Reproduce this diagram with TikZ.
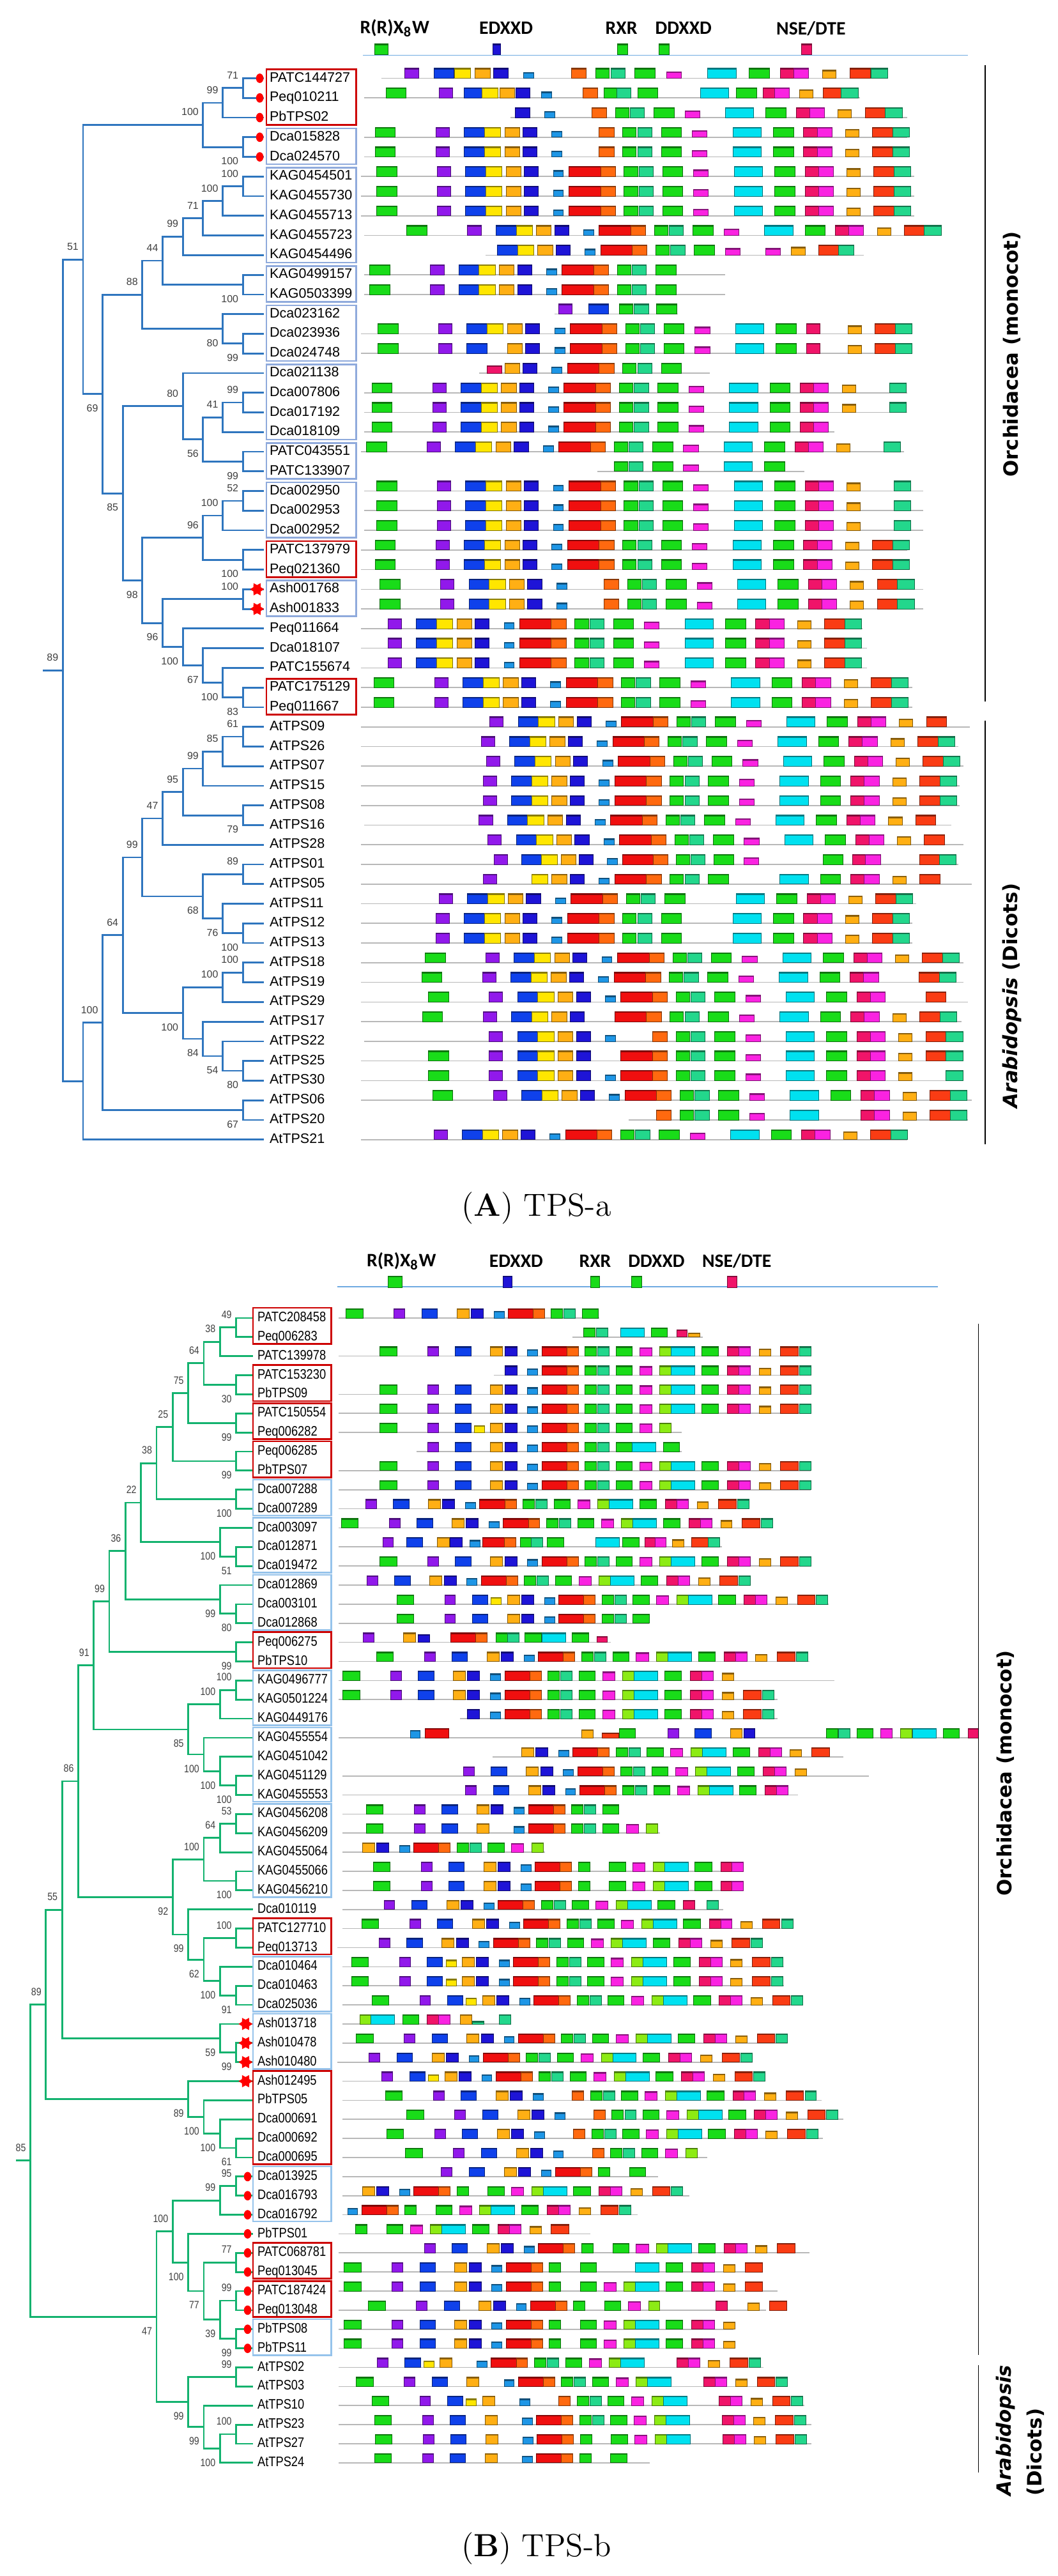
\documentclass[tikz,border=0pt]{standalone}
\usepackage{fontspec}
\newfontfamily\leaffont{Liberation Sans}
\newfontfamily\leafnarrow{Liberation Sans}[FakeStretch=0.85]
\newfontfamily\hdfont{Carlito}
\newfontfamily\gpfont{DejaVu Sans}
\usetikzlibrary{calc,shapes.geometric}

\definecolor{treeA}{RGB}{46,117,190}
\definecolor{treeB}{RGB}{18,178,110}
\definecolor{boxR}{RGB}{205,0,0}
\definecolor{boxBA}{RGB}{143,170,220}
\definecolor{boxBB}{RGB}{150,195,235}
\definecolor{hdln}{RGB}{110,170,225}
\definecolor{mg}{RGB}{25,220,25}
\definecolor{mp}{RGB}{145,25,235}
\definecolor{mb}{RGB}{15,65,235}
\definecolor{my}{RGB}{255,230,0}
\definecolor{mgold}{RGB}{255,175,20}
\definecolor{mnavy}{RGB}{30,20,215}
\definecolor{mlb}{RGB}{30,150,230}
\definecolor{mred}{RGB}{240,15,15}
\definecolor{mor}{RGB}{255,105,15}
\definecolor{mmint}{RGB}{35,215,140}
\definecolor{mmag}{RGB}{250,35,225}
\definecolor{mcyan}{RGB}{0,225,240}
\definecolor{mcrim}{RGB}{240,20,105}
\definecolor{mrdor}{RGB}{250,60,20}
\definecolor{mlime}{RGB}{140,235,20}

% row positions
\newcommand\rowA[1]{116+(#1-1)*29.13}
\newcommand\rowB[1]{1953.4+(#1-1)*28.28}

% domain templates (offset, width, height, colour)
\def\dxA{{-132,-42,0,30,60,87,130,153,200,235,257,292,338,398,458,503,523,565,605,635}}
\def\wdA{{30,20,30,24,22,21,15,47,22,20,21,30,22,42,30,20,22,20,30,25}}
\def\htA{{15,15,15,15,15,15,9,15,15,15,15,15,10,15,15,15,15,12,15,15}}
\def\clA{{"mg","mp","mb","my","mgold","mnavy","mlb","mred","mor","mg","mmint","mg","mmag","mcyan","mg","mcrim","mmag","mgold","mrdor","mmint"}}
\def\dxB{{-112,-41,0,28,52,73,107,128,165,192,211,238,273,303,320,365,403,420,450,482,510}}
\def\wdB{{25,16,23,15,18,18,15,37,17,17,17,24,18,17,35,25,17,17,17,26,17}}
\def\htB{{14,14,14,10,14,14,10,14,14,14,14,14,13,14,14,14,14,14,11,14,14}}
\def\clB{{"mg","mp","mb","my","mgold","mnavy","mlb","mred","mor","mg","mmint","mg","mmag","mlime","mcyan","mg","mcrim","mmag","mgold","mrdor","mmint"}}
\def\fA{1,1,1,1,1,1,1,1,1,1,1,1,1,1,1,1,1,1,1,1}
\def\nA{0,1,1,1,1,1,1,1,1,1,1,1,1,1,1,1,1,1,1,1}
\def\fB{1,1,1,0,1,1,1,1,1,1,1,1,1,1,1,1,1,1,1,1,1}

\newcommand\useA{\let\rowY\rowA\let\mtdx\dxA\let\mtw\wdA\let\mth\htA\let\mtc\clA}
\newcommand\useB{\let\rowY\rowB\let\mtdx\dxB\let\mtw\wdB\let\mth\htB\let\mtc\clB}

\newcommand\dom[5]{%
  \filldraw[fill=#5, draw=#5!50!black, line width=0.2pt] (#1,#2) rectangle ++(#3,-#4);
  \fill[fill=#5!55!black] (#1,{#2-#4}) rectangle ++(#3,1.8);}
\newcommand\seqline[3]{\pgfmathsetmacro\mY{\rowY{#1}}\draw[gline] (#2,\mY) -- (#3,\mY);}
\newcommand\dombox[5]{\pgfmathsetmacro\mY{\rowY{#1}}\dom{#2}{\mY}{#3}{#4}{#5}}
\newcommand\mrow[6]{%
  \seqline{#1}{#2}{#3}%
  \edef\mk{#6}%
  \foreach \m [count=\i from 0] in \mk {%
    \ifnum\m=1
      \pgfmathsetmacro\mD{\mtdx[\i]}%
      \pgfmathsetmacro\mX{#4+#5*\mD}%
      \pgfmathsetmacro\mW{\mtw[\i]}%
      \pgfmathsetmacro\mH{\mth[\i]}%
      \pgfmathparse{\mtc[\i]}\let\mC\pgfmathresult
      \dom{\mX}{\mY}{\mW}{\mH}{\mC}%
    \fi}}

% tree: node between two children, elbows, support value
\newcommand\inode[4]{\path let \p1=(#3), \p2=(#4), \p3=(#2,0) in coordinate (#1) at (\x3,{(\y1+\y2)/2});}
\newcommand\clade[7]{%
  \inode{#2}{#3}{#4}{#5}
  \draw[br#1] (#2) |- (#4);
  \draw[br#1] (#2) |- (#5);
  \node[bs#1] at ([shift={(-6,#7)}]#2) {#6};}
\newcommand\grpA[3]{\draw[#1] (395,{\rowA{#2}-13}) rectangle (528,{\rowA{#3}+11});}
\newcommand\grpB[3]{\draw[#1] (375,{\rowB{#2}-15}) rectangle (491,{\rowB{#3}+10});}

\tikzset{
  brA/.style={draw=treeA, line width=0.75pt, line cap=rect},
  brB/.style={draw=treeB, line width=0.75pt, line cap=rect},
  bsA/.style={anchor=east, inner sep=0pt, text=black!75, font=\leaffont\fontsize{4.3}{5}\selectfont},
  bsB/.style={anchor=east, inner sep=0pt, text=black!75, font=\leafnarrow\fontsize{4.5}{5}\selectfont},
  leafA/.style={anchor=west, inner sep=0pt, text height=4.2pt, text depth=1.2pt, font=\leaffont\fontsize{5.8}{7}\selectfont},
  leafB/.style={anchor=west, inner sep=0pt, text height=4.2pt, text depth=1.2pt, font=\leafnarrow\fontsize{5.8}{7}\selectfont},
  gline/.style={draw=black!28, line width=0.45pt},
  redbox/.style={draw=boxR, line width=0.7pt},
  blueboxA/.style={draw=boxBA, line width=0.7pt},
  blueboxB/.style={draw=boxBB, line width=0.7pt},
  rdot/.style={ellipse, fill=red, inner sep=0pt, minimum width=1.1mm, minimum height=1.4mm},
  rstar/.style={star, star points=6, star point ratio=0.6, fill=red, inner sep=0pt, minimum size=1.25mm},
  hd/.style={inner sep=0pt, font=\hdfont\bfseries\fontsize{8}{9}\selectfont},
  gp/.style={rotate=90, inner sep=0pt, font=\gpfont\bfseries\fontsize{8.3}{10}\selectfont},
  brk/.style={draw=black, line width=0.35pt},
  capt/.style={inner sep=0pt, font=\fontsize{13.5}{16}\selectfont}
}

\begin{document}
\begin{tikzpicture}[x=0.1mm, y=-0.1mm]
\useasboundingbox (0,0) rectangle (1568,3818);
\fill[white] (0,0) rectangle (1568,3818);

% ---------- (A) TPS-a ----------
\draw[hdln, line width=0.45pt] (538,82) -- (1435,82);
\dom{555}{81}{20}{16}{mg}
\dom{730}{81}{12}{16}{mnavy}
\dom{915}{81}{15}{16}{mg}
\dom{977}{81}{15}{16}{mg}
\dom{1188}{81}{15}{16}{mcrim}
\node[hd] (hA1) at (585,42) {R(R)X\textsubscript{8}W};
\node[hd] (hA2) at (750,42) {EDXXD};
\node[hd] (hA3) at (921,42) {RXR};
\node[hd] (hA4) at (1013,42) {DDXXD};
\node[hd] (hA5) at (1202,42) {NSE/DTE};

\useA
\mrow{1}{565}{1310}{643}{1.02}{0,1,1,1,1,1,1,0,1,1,1,1,1,1,1,1,1,1,1,1}
\mrow{2}{540}{1275}{688}{0.88}{1,1,1,1,1,1,1,0,1,1,1,1,0,1,1,1,1,1,1,1}
\mrow{3}{757}{1345}{677}{1}{0,0,0,0,0,1,1,0,1,1,1,1,1,1,1,1,1,1,1,1}
\mrow{4}{540}{1345}{688}{1}{1,1,1,1,1,1,1,0,1,1,1,1,1,1,1,1,1,1,1,1}
\mrow{5}{540}{1345}{688}{1}{1,1,1,1,1,1,1,0,1,1,1,1,1,1,1,1,1,1,1,1}
\mrow{6}{535}{1355}{690}{1}{\fA}
\mrow{7}{535}{1355}{690}{1}{\fA}
\mrow{8}{535}{1355}{690}{1}{\fA}
\mrow{9}{540}{1385}{735}{1}{\fA}
\mrow{10}{720}{1280}{737}{1}{0,0,1,1,1,1,1,1,1,1,1,1,1,0,0,0,0,0,0,0}
\dombox{10}{1135}{22}{10}{mmag}\dombox{10}{1173}{20}{12}{mgold}\dombox{10}{1213}{30}{15}{mrdor}\dombox{10}{1243}{22}{15}{mmint}
\mrow{11}{540}{1075}{680}{1}{1,1,1,1,1,1,1,1,1,1,1,1,0,0,0,0,0,0,0,0}
\mrow{12}{540}{1075}{680}{1}{1,1,1,1,1,1,1,1,1,1,1,1,0,0,0,0,0,0,0,0}
\seqline{13}{822}{1005}
\dombox{13}{828}{20}{15}{mp}\dombox{13}{872}{30}{15}{mb}\dombox{13}{918}{20}{15}{mg}\dombox{13}{940}{21}{15}{mmint}\dombox{13}{973}{30}{15}{mg}
\mrow{14}{535}{1350}{692}{1}{1,1,1,1,1,1,1,1,1,1,1,1,1,1,1,1,0,1,1,1}
\mrow{15}{535}{1350}{692}{1}{1,1,1,0,1,1,1,1,1,1,1,1,1,1,1,1,0,1,1,1}
\mrow{16}{710}{1052}{688}{1}{0,0,0,0,1,1,1,1,1,1,1,1,0,0,0,0,0,0,0,0}
\dombox{16}{722}{22}{11}{mcrim}
\mrow{17}{540}{1345}{683}{1}{1,1,1,1,1,1,1,1,1,1,1,1,1,1,1,1,1,1,0,1}
\mrow{18}{540}{1345}{683}{1}{1,1,1,1,1,1,1,1,1,1,1,1,1,1,1,1,1,1,0,1}
\mrow{19}{540}{1237}{683}{1}{1,1,1,1,1,1,1,1,1,1,1,1,1,1,1,1,1,0,0,0}
\mrow{20}{535}{1340}{675}{1}{1,1,1,1,1,1,1,1,1,1,1,1,1,1,1,1,1,1,0,1}
\mrow{21}{885}{1192}{675}{1}{0,0,0,0,0,0,0,0,0,1,1,1,1,1,1,0,0,0,0,0}
\mrow{22}{540}{1368}{690}{1}{1,1,1,1,1,1,1,1,1,1,1,1,1,1,1,1,1,1,0,1}
\mrow{23}{540}{1368}{690}{1}{1,1,1,1,1,1,1,1,1,1,1,1,1,1,1,1,1,1,0,1}
\mrow{24}{540}{1368}{690}{1}{1,1,1,1,1,1,1,1,1,1,1,1,1,1,1,1,1,1,0,1}
\mrow{25}{535}{1345}{688}{1}{\fA}
\mrow{26}{535}{1345}{688}{1}{\fA}
\mrow{27}{535}{1368}{695}{1}{1,1,1,1,1,1,1,0,1,1,1,1,1,1,1,1,1,1,1,1}
\mrow{28}{535}{1368}{695}{1}{1,1,1,1,1,1,1,0,1,1,1,1,1,1,1,1,1,1,1,1}
\mrow{29}{535}{1278}{617}{1}{\nA}
\mrow{30}{535}{1285}{617}{1}{\nA}
\mrow{31}{535}{1285}{617}{1}{\nA}
\mrow{32}{535}{1352}{686}{1}{\fA}
\mrow{33}{535}{1352}{686}{1}{\fA}
\mrow{34}{535}{1437}{768}{1}{0,1,1,1,1,1,1,1,1,1,1,1,1,1,1,1,1,1,1,0}
\mrow{35}{535}{1420}{755}{1}{\nA}
\mrow{36}{535}{1428}{763}{1}{\nA}
\mrow{37}{535}{1422}{758}{1}{\nA}
\mrow{38}{535}{1422}{758}{1}{\nA}
\mrow{39}{540}{1410}{752}{1}{0,1,1,1,1,1,1,1,1,1,1,1,1,1,1,1,1,1,1,0}
\mrow{40}{535}{1428}{765}{1}{0,1,1,1,1,1,1,1,1,1,1,1,1,1,1,1,1,1,1,0}
\mrow{41}{535}{1420}{773}{0.975}{0,1,1,1,1,1,1,1,1,1,1,1,1,0,1,1,1,0,1,1}
\mrow{42}{535}{1440}{758}{1}{0,1,0,1,1,1,1,1,1,1,1,1,0,1,1,1,1,1,1,0}
\mrow{43}{535}{1358}{693}{1}{0,1,1,1,1,1,1,1,1,1,1,1,0,1,1,1,1,1,1,1}
\mrow{44}{535}{1352}{688}{1}{0,1,1,1,1,1,1,1,1,1,1,1,0,1,1,1,1,1,1,1}
\mrow{45}{535}{1352}{688}{1}{0,1,1,1,1,1,1,1,1,1,1,1,0,1,1,1,1,1,1,1}
\mrow{46}{535}{1428}{762}{1}{\fA}
\mrow{47}{535}{1428}{757}{1}{1,1,1,1,1,1,1,1,1,1,1,1,1,1,1,1,1,0,1,1}
\mrow{48}{535}{1435}{767}{1}{1,1,1,1,1,1,1,1,1,1,1,1,1,1,1,1,1,0,1,0}
\mrow{49}{535}{1425}{758}{1}{1,1,1,1,1,1,0,1,1,1,1,1,1,1,1,1,1,1,1,1}
\mrow{50}{540}{1425}{767}{1}{0,1,1,1,1,1,1,0,1,1,1,1,1,1,1,1,1,1,1,1}
\mrow{51}{535}{1428}{767}{1}{1,1,1,1,1,1,0,1,1,1,1,1,1,1,1,1,1,1,1,1}
\mrow{52}{535}{1428}{767}{1}{1,1,1,1,1,1,1,1,1,1,1,1,1,1,1,1,1,1,0,1}
\mrow{53}{535}{1440}{773}{1}{\fA}
\mrow{54}{932}{1435}{773}{1}{0,0,0,0,0,0,0,0,1,1,1,1,1,1,0,1,1,1,1,1}
\mrow{55}{535}{1345}{685}{1}{\nA}

% leaves A
\foreach \nm [count=\r] in {PATC144727,Peq010211,PbTPS02,Dca015828,Dca024570,KAG0454501,KAG0455730,KAG0455713,KAG0455723,KAG0454496,KAG0499157,KAG0503399,Dca023162,Dca023936,Dca024748,Dca021138,Dca007806,Dca017192,Dca018109,PATC043551,PATC133907,Dca002950,Dca002953,Dca002952,PATC137979,Peq021360,Ash001768,Ash001833,Peq011664,Dca018107,PATC155674,PATC175129,Peq011667,AtTPS09,AtTPS26,AtTPS07,AtTPS15,AtTPS08,AtTPS16,AtTPS28,AtTPS01,AtTPS05,AtTPS11,AtTPS12,AtTPS13,AtTPS18,AtTPS19,AtTPS29,AtTPS17,AtTPS22,AtTPS25,AtTPS30,AtTPS06,AtTPS20,AtTPS21} {
  \coordinate (ta\r) at (390,{\rowA{\r}});
  \node[leafA] (la\r) at (399,{\rowA{\r}}) {\nm};
}

% tree A
\clade{A}{a71}{360}{ta1}{ta2}{71}{-19}
\clade{A}{a99a}{330}{a71}{ta3}{99}{-19}
\clade{A}{a100a}{360}{ta4}{ta5}{100}{21}
\clade{A}{a100b}{301}{a99a}{a100a}{100}{-19}
\clade{A}{a100c}{360}{ta6}{ta7}{100}{-19}
\clade{A}{a100d}{330}{a100c}{ta8}{100}{-19}
\clade{A}{a71b}{301}{a100d}{ta9}{71}{-19}
\clade{A}{a99b}{271}{a71b}{ta10}{99}{-19}
\clade{A}{a100e}{360}{ta11}{ta12}{100}{21}
\clade{A}{a44}{241}{a99b}{a100e}{44}{-19}
\clade{A}{a99c}{360}{ta14}{ta15}{99}{21}
\clade{A}{a80a}{330}{ta13}{a99c}{80}{21}
\clade{A}{a88}{211}{a44}{a80a}{88}{-19}
\clade{A}{a99d}{360}{ta17}{ta18}{99}{-19}
\clade{A}{a41}{330}{a99d}{ta19}{41}{-19}
\clade{A}{a99e}{360}{ta20}{ta21}{99}{21}
\clade{A}{a56}{301}{a41}{a99e}{56}{21}
\clade{A}{a80b}{271}{ta16}{a56}{80}{-19}
\clade{A}{a52}{360}{ta22}{ta23}{52}{-19}
\clade{A}{a100f}{330}{a52}{ta24}{100}{-19}
\clade{A}{a100g}{360}{ta25}{ta26}{100}{21}
\clade{A}{a96a}{301}{a100f}{a100g}{96}{-19}
\clade{A}{a100h}{360}{ta27}{ta28}{100}{-19}
\clade{A}{a83}{360}{ta32}{ta33}{83}{21}
\clade{A}{a100i}{330}{ta31}{a83}{100}{21}
\clade{A}{a67}{301}{ta30}{a100i}{67}{21}
\clade{A}{a100j}{271}{ta29}{a67}{100}{21}
\clade{A}{a96b}{241}{a100h}{a100j}{96}{21}
\clade{A}{a98}{211}{a96a}{a96b}{98}{21}
\clade{A}{a85}{182}{a80b}{a98}{85}{21}
\clade{A}{a69}{152}{a88}{a85}{69}{21}
\clade{A}{a51}{123}{a100b}{a69}{51}{-19}
\clade{A}{a61}{360}{ta34}{ta35}{61}{-19}
\clade{A}{a85b}{330}{a61}{ta36}{85}{-19}
\clade{A}{a99f}{301}{a85b}{ta37}{99}{-19}
\clade{A}{a79}{360}{ta38}{ta39}{79}{21}
\clade{A}{a95}{271}{a99f}{a79}{95}{-19}
\clade{A}{a47}{241}{a95}{ta40}{47}{-19}
\clade{A}{a89}{360}{ta41}{ta42}{89}{-19}
\clade{A}{a100k}{360}{ta44}{ta45}{100}{21}
\clade{A}{a76}{330}{ta43}{a100k}{76}{21}
\clade{A}{a68}{301}{a89}{a76}{68}{21}
\clade{A}{a99g}{211}{a47}{a68}{99}{-19}
\clade{A}{a100l}{360}{ta46}{ta47}{100}{-19}
\clade{A}{a100m}{330}{a100l}{ta48}{100}{-19}
\clade{A}{a80c}{360}{ta51}{ta52}{80}{21}
\clade{A}{a54}{330}{ta50}{a80c}{54}{21}
\clade{A}{a84}{301}{ta49}{a54}{84}{21}
\clade{A}{a100n}{271}{a100m}{a84}{100}{21}
\clade{A}{a64}{182}{a99g}{a100n}{64}{-19}
\clade{A}{a67b}{360}{ta53}{ta54}{67}{21}
\clade{A}{a100o}{152}{a64}{a67b}{100}{-19}
\clade{A}{a100p}{123}{a100o}{ta55}{}{-19}
\clade{A}{rootA}{93}{a51}{a100p}{89}{-19}
\draw[brA] (rootA) -- ++(-28,0);

% groups A
\grpA{redbox}{1}{3}
\grpA{blueboxA}{4}{5}
\grpA{blueboxA}{6}{10}
\grpA{blueboxA}{11}{12}
\grpA{blueboxA}{13}{15}
\grpA{blueboxA}{16}{19}
\grpA{blueboxA}{20}{21}
\grpA{blueboxA}{22}{24}
\grpA{redbox}{25}{26}
\grpA{blueboxA}{27}{28}
\grpA{redbox}{32}{33}
\foreach \r in {1,...,5} \node[rdot] at (385,{\rowA{\r}}) {};
\foreach \r in {27,28} \node[rstar] at (381,{\rowA{\r}}) {};

\draw[brk] (1460,97) -- (1460,1040);
\draw[brk] (1460,1068) -- (1460,1696);
\node[gp] (oA) at (1500,525) {Orchidacea (monocot)};
\node[gp] (dA) at (1500,1476) {\itshape Arabidopsis\upshape{} (Dicots)};
\node[capt] (cA) at (795,1791) {(\textbf{A}) TPS-a};

% ---------- (B) TPS-b ----------
\draw[hdln, line width=0.45pt] (500,1907) -- (1390,1907);
\dom{575}{1908}{21}{17}{mg}
\dom{746}{1908}{13}{17}{mnavy}
\dom{875}{1908}{14}{17}{mg}
\dom{936}{1908}{15}{17}{mg}
\dom{1078}{1908}{14}{17}{mcrim}
\node[hd] (hB1) at (595,1869) {R(R)X\textsubscript{8}W};
\node[hd] (hB2) at (765,1869) {EDXXD};
\node[hd] (hB3) at (882,1869) {RXR};
\node[hd] (hB4) at (973,1869) {DDXXD};
\node[hd] (hB5) at (1092,1869) {NSE/DTE};

\useB
\mrow{1}{502}{888}{625}{1}{1,1,1,0,1,1,1,1,1,1,1,1,0,0,0,0,0,0,0,0,0}
\seqline{2}{848}{1042}
\dombox{2}{865}{17}{14}{mg}\dombox{2}{884}{17}{14}{mmint}\dombox{2}{920}{35}{14}{mcyan}\dombox{2}{965}{24}{14}{mg}\dombox{2}{1003}{15}{11}{mcrim}\dombox{2}{1020}{17}{6}{mgold}
\mrow{3}{502}{1202}{675}{1}{\fB}
\mrow{4}{732}{1202}{675}{1}{0,0,0,0,0,1,1,1,1,1,1,1,1,1,1,1,1,1,1,1,1}
\mrow{5}{502}{1202}{675}{1}{\fB}
\mrow{6}{502}{1202}{675}{1}{\fB}
\mrow{7}{502}{1010}{675}{1}{1,1,1,1,1,1,1,1,1,1,1,1,1,1,0,0,0,0,0,0,0}
\mrow{8}{617}{1010}{675}{1}{0,1,1,0,1,1,1,1,1,1,1,1,0,0,0,0,0,0,0,0,0}
\dombox{8}{937}{35}{14}{mcyan}\dombox{8}{983}{24}{14}{mg}
\mrow{9}{502}{1202}{675}{1}{\fB}
\mrow{10}{502}{1202}{675}{1}{\fB}
\mrow{11}{502}{1110}{583}{1}{0,1,1,0,1,1,1,1,1,1,1,1,1,1,1,1,1,1,1,1,1}
\mrow{12}{502}{1145}{618}{1}{\fB}
\mrow{13}{502}{1070}{603}{0.875}{0,1,1,0,1,1,1,1,1,1,1,1,0,0,1,1,1,1,1,1,1}
\mrow{14}{502}{1202}{675}{1}{\fB}
\mrow{15}{502}{1112}{585}{1}{0,1,1,0,1,1,1,1,1,1,1,1,1,1,1,1,1,1,1,1,1}
\mrow{16}{502}{1228}{700}{1}{1,1,1,1,1,1,1,1,1,1,1,1,1,1,1,1,1,1,1,1,1}
\mrow{17}{502}{962}{700}{1}{1,1,1,0,1,1,1,1,1,1,1,1,0,0,0,0,0,0,0,0,0}
\seqline{18}{502}{905}
\dombox{18}{538}{16}{14}{mp}\dombox{18}{598}{18}{14}{mgold}\dombox{18}{620}{17}{12}{mnavy}\dombox{18}{668}{37}{14}{mred}\dombox{18}{705}{17}{14}{mor}\dombox{18}{735}{17}{14}{mg}\dombox{18}{752}{17}{14}{mmint}\dombox{18}{778}{24}{14}{mg}\dombox{18}{803}{35}{14}{mcyan}\dombox{18}{848}{24}{14}{mg}\dombox{18}{885}{15}{9}{mcrim}
\mrow{19}{502}{1200}{670}{1}{\fB}
\mrow{20}{502}{1237}{620}{1}{1,1,1,0,1,1,1,1,1,1,1,1,1,1,1,1,1,1,1,0,0}
\mrow{21}{502}{1152}{620}{1}{\fB}
\mrow{22}{682}{1152}{620}{1}{0,0,0,0,0,1,1,1,1,1,1,1,1,1,1,1,1,1,1,1,1}
\seqline{23}{502}{1450}
\dombox{23}{608}{14}{11}{mlb}\dombox{23}{630}{35}{14}{mred}\dombox{23}{862}{17}{12}{mgold}\dombox{23}{892}{25}{7}{mrdor}\dombox{23}{918}{24}{14}{mg}\dombox{23}{990}{16}{14}{mp}\dombox{23}{1030}{24}{14}{mb}\dombox{23}{1083}{17}{14}{mgold}\dombox{23}{1103}{16}{14}{mnavy}\dombox{23}{1225}{17}{14}{mg}\dombox{23}{1243}{17}{14}{mmint}\dombox{23}{1270}{24}{14}{mg}\dombox{23}{1305}{17}{14}{mmag}\dombox{23}{1335}{17}{14}{mlime}\dombox{23}{1353}{35}{14}{mcyan}\dombox{23}{1398}{24}{14}{mg}\dombox{23}{1435}{15}{14}{mcrim}
\mrow{24}{730}{1250}{721}{1}{0,0,0,0,1,1,1,1,1,1,1,1,1,1,1,1,1,1,1,1,0}
\mrow{25}{508}{1288}{728}{1}{0,1,1,0,1,1,1,1,1,1,1,1,1,1,1,1,1,1,1,0,0}
\mrow{26}{508}{1183}{731}{1}{0,1,1,0,1,1,1,1,1,1,1,1,1,1,1,1,1,1,0,0,0}
\mrow{27}{508}{918}{655}{1}{1,1,1,0,1,1,1,1,1,1,1,1,0,0,0,0,0,0,0,0,0}
\mrow{28}{508}{978}{655}{1}{1,1,1,0,1,0,1,1,1,1,1,1,1,1,0,0,0,0,0,0,0}
\mrow{29}{508}{808}{485}{1}{0,0,0,0,1,1,1,1,1,1,1,1,1,1,0,0,0,0,0,0,0}
\mrow{30}{508}{1102}{665}{1}{1,1,1,0,1,1,1,1,1,1,0,1,1,1,1,1,1,1,0,0,0}
\mrow{31}{508}{1102}{665}{1}{1,1,1,0,1,1,1,1,1,1,0,1,1,1,1,1,1,1,0,0,0}
\mrow{32}{508}{1072}{610}{1}{0,1,1,0,1,1,1,1,1,1,1,1,1,1,1,1,1,0,0,0,0}
\dombox{32}{1048}{17}{14}{mmint}
\mrow{33}{508}{1175}{648}{1}{\fB}
\mrow{34}{500}{1130}{603}{1}{0,1,1,0,1,1,1,1,1,1,1,1,1,1,1,1,1,1,1,1,1}
\mrow{35}{508}{1162}{633}{1}{1,1,1,1,1,1,1,1,1,1,1,1,1,1,1,1,1,1,1,1,1}
\mrow{36}{508}{1162}{633}{1}{1,1,1,1,1,1,1,1,1,1,1,1,1,1,1,1,1,1,1,1,1}
\mrow{37}{508}{1190}{663}{1}{1,1,1,1,1,1,1,1,1,1,1,1,1,1,1,1,1,1,1,1,1}
\seqline{38}{508}{758}
\dombox{38}{533}{17}{14}{mlime}\dombox{38}{550}{35}{14}{mcyan}\dombox{38}{597}{24}{14}{mg}\dombox{38}{633}{17}{14}{mcrim}\dombox{38}{650}{17}{14}{mmag}\dombox{38}{682}{17}{14}{mgold}\dombox{38}{700}{17}{4}{mmint}\dombox{38}{740}{17}{14}{mmint}
\mrow{39}{508}{1168}{640}{1}{\fB}
\mrow{40}{500}{1115}{588}{1}{0,1,1,0,1,1,1,1,1,1,1,1,1,1,1,1,1,1,1,1,1}
\mrow{41}{508}{1130}{607}{1}{0,1,1,1,1,1,1,1,1,1,1,1,1,1,1,1,1,1,1,1,1}
\mrow{42}{508}{1218}{683}{1}{1,1,1,0,1,1,1,0,1,1,1,1,1,1,1,1,1,1,1,1,1}
\mrow{43}{508}{1250}{715}{1}{1,1,1,0,1,1,1,0,1,1,1,1,1,1,1,1,1,1,1,1,1}
\mrow{44}{508}{1220}{685}{1}{1,1,1,0,1,1,1,0,1,1,1,1,1,1,1,1,1,1,1,1,1}
\mrow{45}{508}{1048}{713}{1}{1,1,1,0,1,1,1,0,1,1,1,1,1,1,0,0,0,0,0,0,0}
\mrow{46}{508}{975}{695}{1}{0,1,1,0,1,1,1,1,1,1,0,1,0,0,0,0,0,0,0,0,0}
\mrow{47}{508}{1022}{485}{1}{0,0,0,0,1,1,1,1,1,1,0,1,1,1,1,1,1,1,1,1,1}
\mrow{48}{508}{945}{408}{1}{0,0,0,0,0,0,1,1,1,1,0,1,1,1,1,1,1,1,1,1,1}
\mrow{49}{502}{875}{335}{1}{0,0,0,0,0,0,0,0,0,1,0,1,1,1,1,1,1,1,1,1,0}
\mrow{50}{502}{1200}{670}{1}{0,1,1,0,1,1,1,1,1,1,0,1,1,1,1,1,1,1,1,1,0}
\mrow{51}{502}{1120}{622}{1}{1,1,1,0,1,1,1,1,1,1,0,1,0,0,1,1,1,1,1,1,0}
\mrow{52}{502}{1152}{622}{1}{1,1,1,0,1,1,1,1,1,1,0,1,1,1,1,1,1,1,1,1,0}
\mrow{53}{502}{1135}{658}{1}{1,1,1,0,1,1,1,1,1,1,0,1,1,1,0,0,1,0,1,1,0}
\mrow{54}{502}{1087}{622}{1}{1,1,1,0,1,1,1,1,1,1,0,1,1,1,1,1,1,1,1,0,0}
\mrow{55}{502}{1087}{622}{1}{1,1,1,0,1,1,1,1,1,1,0,1,1,1,1,1,1,1,1,0,0}
\mrow{56}{502}{1132}{600}{1}{0,1,1,1,1,0,1,1,1,1,1,1,1,1,1,0,1,1,1,1,1}
\mrow{57}{502}{1162}{640}{1}{1,1,1,0,1,0,1,1,1,1,1,1,1,1,1,0,1,1,1,1,1}
\mrow{58}{502}{1192}{663}{1}{1,1,1,1,1,0,1,0,1,1,1,1,1,1,1,0,1,1,1,1,1}
\mrow{59}{502}{1203}{667}{1}{1,1,1,0,1,0,1,1,1,1,1,1,1,1,1,0,1,1,1,1,1}
\mrow{60}{502}{1203}{668}{1}{1,1,1,0,1,0,1,1,1,1,0,1,1,1,1,0,1,1,1,1,1}
\mrow{61}{502}{963}{667}{1}{1,1,1,0,1,0,1,1,1,1,0,1,0,0,0,0,0,0,0,0,0}

% leaves B
\foreach \nm [count=\r] in {PATC208458,Peq006283,PATC139978,PATC153230,PbTPS09,PATC150554,Peq006282,Peq006285,PbTPS07,Dca007288,Dca007289,Dca003097,Dca012871,Dca019472,Dca012869,Dca003101,Dca012868,Peq006275,PbTPS10,KAG0496777,KAG0501224,KAG0449176,KAG0455554,KAG0451042,KAG0451129,KAG0455553,KAG0456208,KAG0456209,KAG0455064,KAG0455066,KAG0456210,Dca010119,PATC127710,Peq013713,Dca010464,Dca010463,Dca025036,Ash013718,Ash010478,Ash010480,Ash012495,PbTPS05,Dca000691,Dca000692,Dca000695,Dca013925,Dca016793,Dca016792,PbTPS01,PATC068781,Peq013045,PATC187424,Peq013048,PbTPS08,PbTPS11,AtTPS02,AtTPS03,AtTPS10,AtTPS23,AtTPS27,AtTPS24} {
  \coordinate (tb\r) at (374,{\rowB{\r}});
  \node[leafB] (lb\r) at (381,{\rowB{\r}}) {\nm};
}

% tree B
\clade{B}{b49}{350}{tb1}{tb2}{49}{-19}
\clade{B}{b38a}{326}{b49}{tb3}{38}{-19}
\clade{B}{b30}{350}{tb4}{tb5}{30}{21}
\clade{B}{b64}{302}{b38a}{b30}{64}{-19}
\clade{B}{b99a}{350}{tb6}{tb7}{99}{21}
\clade{B}{b75}{279}{b64}{b99a}{75}{-19}
\clade{B}{b99b}{350}{tb8}{tb9}{99}{21}
\clade{B}{b25}{256}{b75}{b99b}{25}{-19}
\clade{B}{b100a}{350}{tb10}{tb11}{100}{21}
\clade{B}{b38b}{232}{b25}{b100a}{38}{-19}
\clade{B}{b51}{350}{tb13}{tb14}{51}{21}
\clade{B}{b100b}{326}{tb12}{b51}{100}{21}
\clade{B}{b22}{209}{b38b}{b100b}{22}{-19}
\clade{B}{b80}{350}{tb16}{tb17}{80}{21}
\clade{B}{b99c}{326}{tb15}{b80}{99}{21}
\clade{B}{b36}{186}{b22}{b99c}{36}{-19}
\clade{B}{b99d}{350}{tb18}{tb19}{99}{21}
\clade{B}{b99e}{162}{b36}{b99d}{99}{-19}
\clade{B}{b100c}{350}{tb20}{tb21}{100}{-19}
\clade{B}{b100d}{326}{b100c}{tb22}{100}{-19}
\clade{B}{b100e}{350}{tb25}{tb26}{100}{21}
\clade{B}{b100f}{326}{tb24}{b100e}{100}{21}
\clade{B}{b100g}{302}{tb23}{b100f}{100}{21}
\clade{B}{b85}{279}{b100d}{b100g}{85}{21}
\clade{B}{b91}{139}{b99e}{b85}{91}{-19}
\clade{B}{b53}{350}{tb27}{tb28}{53}{-19}
\clade{B}{b64b}{326}{b53}{tb29}{64}{-19}
\clade{B}{b100h}{350}{tb30}{tb31}{100}{21}
\clade{B}{b100i}{302}{b64b}{b100h}{100}{-19}
\clade{B}{b100j}{350}{tb33}{tb34}{100}{-19}
\clade{B}{b91b}{350}{tb36}{tb37}{91}{21}
\clade{B}{b100k}{326}{tb35}{b91b}{100}{21}
\clade{B}{b62}{302}{b100j}{b100k}{62}{21}
\clade{B}{b99f}{279}{tb32}{b62}{99}{21}
\clade{B}{b92}{256}{b100i}{b99f}{92}{21}
\clade{B}{b86}{116}{b91}{b92}{86}{-19}
\clade{B}{b99g}{350}{tb39}{tb40}{99}{21}
\clade{B}{b59}{326}{tb38}{b99g}{59}{21}
\clade{B}{b55}{92}{b86}{b59}{55}{-19}
\clade{B}{b61}{350}{tb44}{tb45}{61}{21}
\clade{B}{b100l}{326}{tb43}{b61}{100}{21}
\clade{B}{b100m}{302}{tb42}{b100l}{100}{21}
\clade{B}{b89a}{279}{tb41}{b100m}{89}{21}
\clade{B}{b89b}{68}{b55}{b89a}{89}{-19}
\clade{B}{b95}{350}{tb46}{tb47}{95}{-19}
\clade{B}{b99h}{326}{b95}{tb48}{99}{-19}
\clade{B}{b77a}{350}{tb50}{tb51}{77}{-19}
\clade{B}{b99i}{350}{tb52}{tb53}{99}{-19}
\clade{B}{b99j}{350}{tb54}{tb55}{99}{21}
\clade{B}{b39}{326}{b99i}{b99j}{39}{21}
\clade{B}{b77b}{302}{b77a}{b39}{77}{21}
\clade{B}{b100n}{279}{tb49}{b77b}{100}{21}
\clade{B}{b100o}{256}{b99h}{b100n}{100}{-19}
\clade{B}{b99k}{350}{tb56}{tb57}{99}{-19}
\clade{B}{b100p}{350}{tb59}{tb60}{100}{-19}
\clade{B}{b100q}{326}{b100p}{tb61}{100}{21}
\clade{B}{b99l}{302}{tb58}{b100q}{99}{21}
\clade{B}{b99m}{279}{b99k}{b99l}{99}{21}
\clade{B}{b47}{232}{b100o}{b99m}{47}{21}
\clade{B}{rootB}{45}{b89b}{b47}{85}{-19}
\draw[brB] (rootB) -- ++(-20,0);

% groups B
\grpB{redbox}{1}{2}
\grpB{redbox}{4}{5}
\grpB{redbox}{6}{7}
\grpB{redbox}{8}{9}
\grpB{blueboxB}{10}{11}
\grpB{blueboxB}{12}{14}
\grpB{blueboxB}{15}{17}
\grpB{redbox}{18}{19}
\grpB{blueboxB}{20}{22}
\grpB{blueboxB}{23}{26}
\grpB{blueboxB}{27}{31}
\grpB{redbox}{33}{34}
\grpB{blueboxB}{35}{37}
\grpB{blueboxB}{38}{40}
\grpB{redbox}{41}{45}
\grpB{blueboxB}{46}{48}
\grpB{redbox}{50}{51}
\grpB{redbox}{52}{53}
\grpB{blueboxB}{54}{55}
\foreach \r in {38,...,41} \node[rstar] at (364,{\rowB{\r}}) {};
\foreach \r in {46,...,55} \node[rdot] at (367,{\rowB{\r}}) {};

\draw[brk] (1450,1962) -- (1450,3490);
\draw[brk] (1450,3505) -- (1450,3665);
\node[gp] (oB) at (1490,2628) {Orchidacea (monocot)};
\node[gp, anchor=west] (dB1) at (1490,3700) {\itshape Arabidopsis};
\node[gp, anchor=west] (dB2) at (1535,3700) {(Dicots)};
\node[capt] (cB) at (795,3777) {(\textbf{B}) TPS-b};
\end{tikzpicture}
\end{document}
